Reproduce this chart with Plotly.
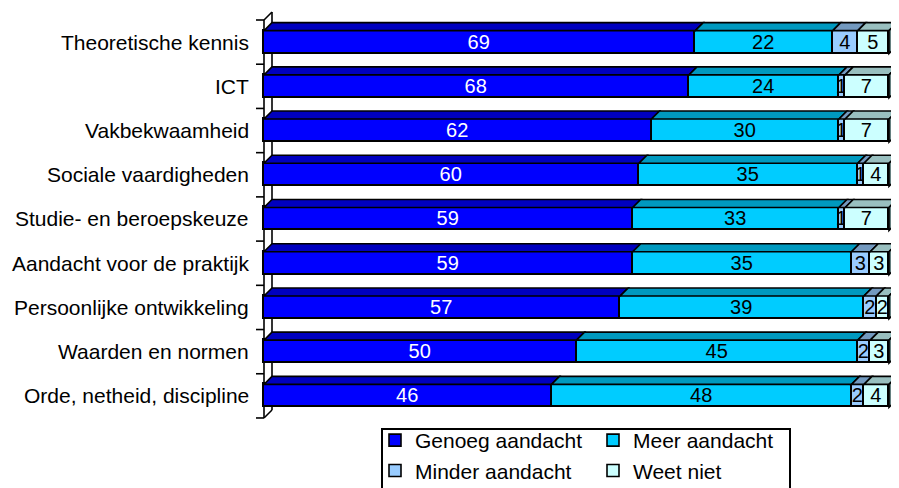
import plotly.graph_objects as go

# ---- data ----
categories = [
    "Theoretische kennis",
    "ICT",
    "Vakbekwaamheid",
    "Sociale vaardigheden",
    "Studie- en beroepskeuze",
    "Aandacht voor de praktijk",
    "Persoonlijke ontwikkeling",
    "Waarden en normen",
    "Orde, netheid, discipline",
]
genoeg = [69, 68, 62, 60, 59, 59, 57, 50, 46]
meer = [22, 24, 30, 35, 33, 35, 39, 45, 48]
minder = [4, 1, 1, 1, 1, 3, 2, 2, 2]
weet_niet = [5, 7, 7, 4, 7, 3, 2, 3, 4]
series_names = ["Genoeg aandacht", "Meer aandacht", "Minder aandacht", "Weet niet"]

# ---- style ----
front_colors = ["#0000FF", "#00CCFF", "#99CCFF", "#CCFFFF"]
top_colors = ["#0000BF", "#0099BF", "#7399BF", "#99BFBF"]
side_colors = ["#000080", "#006680", "#4D6680", "#668080"]
text_colors = ["white", "black", "black", "black"]
legend_ids = ["legend", "legend2", "legend", "legend2"]
FONT = "Arial, Liberation Sans, sans-serif"
OFF = 8                 # page body margin
W, H = 899 - OFF, 488 - OFF
AXIS_PX = 264 - OFF     # pixel x of value 0
PX_PER_X = 6.25         # pixels per percent
TOP_PX = 20 - OFF       # pixel y of top category boundary
PX_PER_CAT = 44.22      # pixels per category
DEPTH = 8               # 3d depth in pixels
BAR_W = 0.52

dx = DEPTH / PX_PER_X
dy = DEPTH / PX_PER_CAT
x_lo = -AXIS_PX / PX_PER_X
x_hi = (W - AXIS_PX) / PX_PER_X
y_top = -0.5 - TOP_PX / PX_PER_CAT
y_bot = -0.5 + (H - TOP_PX) / PX_PER_CAT

series = [genoeg, meer, minder, weet_niet]
ypos = list(range(len(categories)))

fig = go.Figure()
for s, vals in enumerate(series):
    fig.add_trace(go.Bar(
        y=ypos, x=vals, orientation="h", width=BAR_W,
        name=series_names[s], legend=legend_ids[s],
        marker=dict(color=front_colors[s], line=dict(color="black", width=1.6)),
        text=[str(v) for v in vals], textposition="inside", textangle=0,
        insidetextanchor="middle", constraintext="none",
        textfont=dict(family=FONT, size=20, color=text_colors[s]),
        hoverinfo="skip",
    ))

shapes = []
n = len(categories)
for i in range(n):
    base = 0
    yt = i - BAR_W / 2
    yb = i + BAR_W / 2
    for s, vals in enumerate(series):
        v = vals[i]
        x0, x1 = base, base + v
        shapes.append(dict(
            type="path", xref="x", yref="y",
            path=f"M{x0},{yt} L{x1},{yt} L{x1+dx},{yt-dy} L{x0+dx},{yt-dy} Z",
            fillcolor=top_colors[s], line=dict(color="black", width=1.6), layer="above"))
        base = x1
    # side face of last segment
    shapes.append(dict(
        type="path", xref="x", yref="y",
        path=f"M{base},{yt} L{base+dx},{yt-dy} L{base+dx},{yb-dy} L{base},{yb} Z",
        fillcolor=side_colors[-1], line=dict(color="black", width=1.6), layer="above"))

# wall / axis
b_top = -0.5
b_bot = n - 0.5
line = dict(color="black", width=1.6)
shapes.append(dict(type="line", xref="x", yref="y", x0=0, x1=0, y0=b_top, y1=b_bot, line=line, layer="below"))
shapes.append(dict(type="line", xref="x", yref="y", x0=dx, x1=dx, y0=b_top - dy, y1=b_bot - dy, line=line, layer="below"))
shapes.append(dict(type="line", xref="x", yref="y", x0=0, x1=dx, y0=b_top, y1=b_top - dy, line=line, layer="below"))
shapes.append(dict(type="line", xref="x", yref="y", x0=0, x1=dx, y0=b_bot, y1=b_bot - dy, line=line, layer="below"))
for k in range(n + 1):
    shapes.append(dict(type="line", xref="x", yref="y", x0=-8 / PX_PER_X, x1=0,
                       y0=k - 0.5, y1=k - 0.5, line=line, layer="below"))

# legend frame
shapes.append(dict(type="rect", xref="paper", yref="paper",
                   x0=(382 - OFF) / W, x1=(790 - OFF) / W,
                   y0=-0.1, y1=1 - (429 - OFF) / H,
                   line=dict(color="black", width=2), fillcolor="rgba(0,0,0,0)", layer="below"))

annotations = []
for i, c in enumerate(categories):
    annotations.append(dict(
        x=-13 / PX_PER_X, y=i, xref="x", yref="y", text=c, showarrow=False,
        xanchor="right", yanchor="middle",
        font=dict(family=FONT, size=21, color="black")))

leg_common = dict(
    orientation="v", yanchor="top", xanchor="left", traceorder="normal",
    borderwidth=0, bgcolor="rgba(0,0,0,0)", itemwidth=30, tracegroupgap=0,
    font=dict(family=FONT, size=21, color="black"),
)

fig.update_layout(
    width=W, height=H,
    margin=dict(l=0, r=0, t=0, b=0, pad=0, autoexpand=False),
    paper_bgcolor="white", plot_bgcolor="white",
    barmode="stack", bargap=0,
    xaxis=dict(range=[x_lo, x_hi], visible=False, fixedrange=True),
    yaxis=dict(range=[y_bot, y_top], visible=False, fixedrange=True),
    shapes=shapes, annotations=annotations,
    showlegend=True,
    legend=dict(x=(375 - OFF) / W, y=1 - (420 - OFF) / H, **leg_common),
    legend2=dict(x=(593 - OFF) / W, y=1 - (420 - OFF) / H, **leg_common),
    font=dict(family=FONT),
)

fig.write_html("out.html")
